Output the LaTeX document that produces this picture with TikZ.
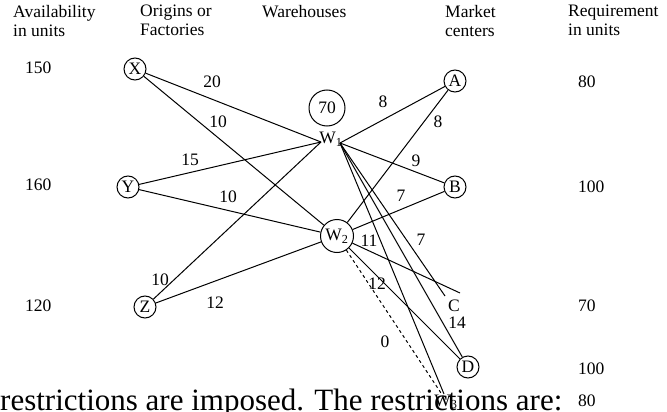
\documentclass[tikz,border=0pt]{standalone}
\usepackage{fontspec}
\setmainfont{Liberation Serif}
\begin{document}
\begin{tikzpicture}[x=1pt,y=-1pt,
  every node/.style={font=\fontsize{17.5}{20}\selectfont, inner sep=0pt},
  circ/.style={draw, circle, minimum size=22pt, line width=1pt},
  edge/.style={line width=1pt},
  num/.style={anchor=base west},
  hdr/.style={anchor=north west, align=left, font=\fontsize{17.5}{19}\selectfont}]
\useasboundingbox (0,0) rectangle (667,412);
% headers
\node[hdr] (h1) at (13,5) {Availability\\in units};
\node[hdr] (h2) at (140,5) {Origins or\\Factories};
\node[hdr] (h3) at (262,5) {Warehouses};
\node[hdr] (h4) at (445,5) {Market\\centers};
\node[hdr] (h5) at (568,5) {Requirement\\in units};
% availability / requirement
\node[num] (a1) at (25,74) {150};
\node[num] (a2) at (25,190) {160};
\node[num] (a3) at (25,311) {120};
\node[num] (r1) at (578,88) {80};
\node[num] (r2) at (578,192) {100};
\node[num] (r3) at (578,311) {70};
\node[num] (r4) at (578,374) {100};
\node[num] (r5) at (578,406) {80};
% nodes
\node[circ] (X) at (135,69) {X};
\node[circ] (Y) at (128,187) {Y};
\node[circ] (Z) at (145,307) {Z};
\node[circ, minimum size=36pt] (n70) at (327,108) {70};
\node (W1) at (331,139) {W\textsubscript{1}};
\coordinate (W1in) at (321,142);
\coordinate (W1out) at (340,143);
\node[circ, minimum size=33pt] (W2) at (337,236) {W\textsubscript{2}};
\node[circ] (A) at (455,81) {A};
\node[circ] (B) at (455,187) {B};
\node (C) at (454,306) {C};
\coordinate (C1) at (445,296);
\coordinate (C2) at (460,293);
\node[circ] (D) at (468,367) {D};
\node (W3) at (446,402) {W\textsubscript{3}};
\coordinate (W3a) at (444,394);
\coordinate (W3b) at (441,393);
% edges
\draw[edge] (X) -- (W1in);
\draw[edge] (X) -- (W2);
\draw[edge] (Y) -- (W1in);
\draw[edge] (Y) -- (W2);
\draw[edge] (Z) -- (W1in);
\draw[edge] (Z) -- (W2);
\draw[edge] (W1out) -- (A);
\draw[edge] (W1out) -- (B);
\draw[edge] (W1out) -- (C1);
\draw[edge] (W1out) -- (D);
\draw[edge] (W1out) -- (W3a);
\draw[edge] (W2) -- (A);
\draw[edge] (W2) -- (B);
\draw[edge] (W2) -- (C2);
\draw[edge] (W2) -- (D);
\draw[edge, dashed] (W2) -- (W3b);
% labels
\node (l1) at (212,82) {20};
\node (l2) at (218,122) {10};
\node (l3) at (190,160) {15};
\node (l4) at (228,197) {10};
\node (l5) at (160,280) {10};
\node (l6) at (215,303) {12};
\node (l7) at (383,102) {8};
\node (l8) at (438,122) {8};
\node (l9) at (416,161) {9};
\node (l10) at (401,196) {7};
\node (l11) at (369,241) {11};
\node (l12) at (421,240) {7};
\node (l13) at (377,284) {12};
\node (l14) at (457,323) {14};
\node (l15) at (385,342) {0};
% bottom text
\node[anchor=base west, font=\fontsize{31}{33}\selectfont] (bt) at (0,410) {restrictions are imposed. The restrictions are:};
\end{tikzpicture}
\end{document}
